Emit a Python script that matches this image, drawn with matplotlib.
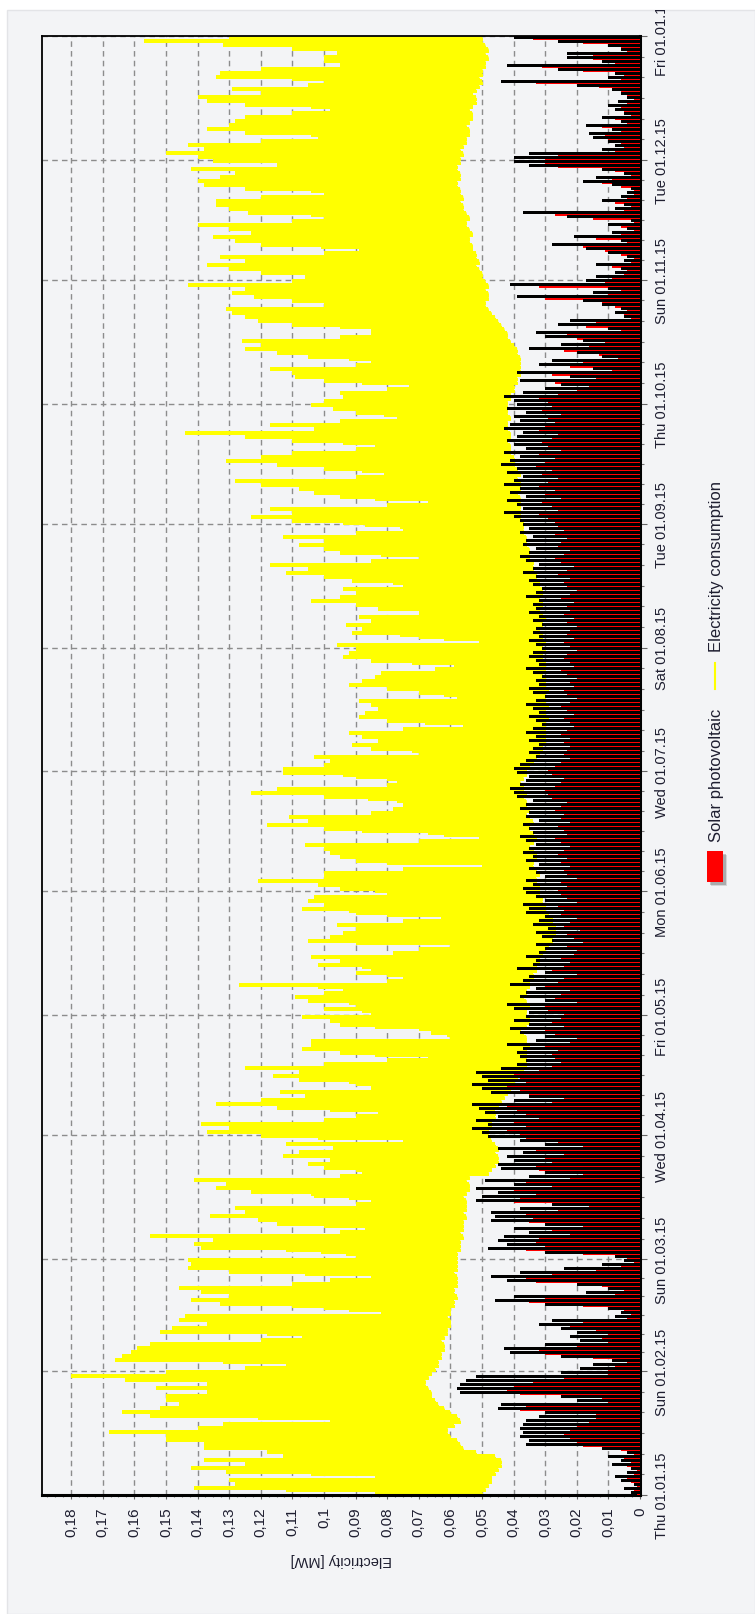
import datetime as dt
import numpy as np
import matplotlib
matplotlib.use("Agg")
import matplotlib.pyplot as plt
from matplotlib.patches import Rectangle
from matplotlib.lines import Line2D
from matplotlib.ticker import MultipleLocator, FixedLocator, FuncFormatter

plt.rcParams["font.family"] = ["Liberation Sans", "DejaVu Sans"]
plt.rcParams["lines.scale_dashes"] = False

W, H = 755, 1615

# daily values in kW (1/1000 MW), 01.01.2015 - 31.12.2015
# electricity consumption: night base load
load_base = [
    50, 49, 48, 47, 47, 46, 45, 44, 44, 46, 52, 56, 57, 58, 60, 61, 61, 59, 57, 58, 60, 62, 64, 65, 66, 66, 67, 68, 68, 67, 66,  # Jan
    65, 64, 64, 63, 63, 62, 62, 63, 62, 61, 61, 60, 60, 61, 60, 60, 59, 59, 58, 59, 59, 58, 58, 58, 59, 58, 58, 58,  # Feb
    58, 58, 57, 57, 57, 56, 57, 56, 56, 56, 55, 56, 55, 55, 55, 56, 55, 54, 54, 55, 54, 48, 47, 46, 45, 45, 46, 45, 46, 47, 48,  # Mar
    48, 48, 47, 47, 46, 46, 47, 45, 44, 43, 42, 41, 40, 40, 39, 38, 37, 36, 36, 36, 36, 36, 35, 36, 36, 37, 38, 36, 35, 35,  # Apr
    36, 36, 35, 36, 37, 36, 36, 35, 35, 34, 34, 33, 33, 32, 32, 31, 30, 29, 28, 28, 27, 27, 27, 28, 28, 29, 30, 30, 31, 31, 32,  # May
    32, 32, 33, 33, 32, 33, 34, 34, 33, 33, 34, 35, 34, 33, 34, 35, 35, 34, 35, 36, 35, 36, 36, 37, 36, 37, 37, 38, 37, 36,  # Jun
    36, 35, 34, 33, 32, 31, 31, 30, 30, 30, 30, 30, 30, 29, 30, 30, 29, 30, 30, 30, 29, 30, 30, 30, 31, 30, 30, 30, 31, 31, 30,  # Jul
    31, 30, 31, 31, 32, 31, 31, 30, 31, 32, 31, 31, 32, 31, 31, 32, 32, 33, 33, 34, 34, 34, 35, 35, 35, 36, 36, 36, 37, 37, 37,  # Aug
    37, 38, 38, 38, 38, 38, 38, 39, 38, 38, 38, 39, 38, 39, 40, 40, 40, 41, 41, 41, 42, 41, 41, 42, 42, 42, 41, 42, 42, 42,  # Sep
    42, 41, 41, 40, 40, 39, 39, 38, 38, 38, 38, 38, 39, 39, 40, 41, 42, 42, 43, 44, 45, 46, 47, 48, 49, 49, 48, 48, 49, 48, 49,  # Oct
    50, 50, 51, 52, 51, 52, 52, 53, 53, 54, 54, 53, 54, 55, 55, 54, 55, 56, 56, 57, 56, 57, 57, 58, 58, 57, 57, 58, 58, 57,  # Nov
    57, 56, 57, 56, 55, 55, 54, 54, 55, 54, 53, 53, 54, 53, 52, 52, 53, 52, 51, 50, 51, 50, 50, 49, 49, 48, 49, 48, 49, 50, 50,  # Dec
]

# electricity consumption: usual daytime level
load_mid = [
    80, 84, 80, 82, 78, 84, 85, 82, 84, 80, 82, 86, 86, 88, 88, 90, 86, 85, 82, 90, 92, 90, 88, 90, 88, 88, 92, 90, 94, 96, 92,
    90, 88, 95, 96, 95, 94, 93, 88, 85, 92, 90, 88, 90, 90, 75, 82, 88, 92, 88, 90, 90, 82, 80, 76, 86, 90, 90, 90,
    80, 84, 90, 90, 88, 92, 80, 76, 86, 88, 90, 88, 88, 78, 75, 82, 88, 90, 90, 92, 80, 76, 82, 84, 80, 85, 84, 78, 82, 65, 85,
    88, 86, 88, 78, 74, 70, 82, 86, 84, 80, 82, 72, 74, 80, 82, 80, 85, 78, 68, 58, 74, 80, 78, 78, 52, 56, 60, 74, 76, 80,
    66, 76, 70, 78, 80, 76, 74, 82, 64, 60, 70, 68, 76, 72, 76, 62, 58, 50, 76, 74, 72, 70, 72, 60, 52, 70, 76, 74, 76, 74, 64,
    72, 74, 78, 74, 74, 60, 44, 70, 72, 72, 74, 76, 58, 44, 56, 74, 78, 74, 76, 68, 64, 62, 64, 74, 80, 78, 64, 62, 70, 76,
    68, 64, 64, 66, 52, 58, 60, 56, 58, 60, 52, 44, 56, 58, 58, 56, 56, 58, 46, 52, 56, 60, 60, 58, 58, 48, 46, 58, 62, 62, 62,
    64, 44, 54, 62, 60, 64, 60, 62, 54, 58, 62, 68, 66, 64, 66, 56, 66, 70, 74, 72, 74, 62, 56, 68, 70, 72, 70, 74, 66, 58, 64,
    78, 82, 78, 80, 64, 56, 74, 76, 78, 82, 84, 70, 66, 76, 80, 86, 82, 78, 72, 68, 78, 84, 88, 76, 80, 74, 64, 72, 74, 76,
    76, 74, 74, 66, 62, 76, 78, 80, 82, 72, 70, 78, 80, 84, 82, 84, 74, 70, 70, 80, 84, 86, 86, 88, 78, 80, 84, 86, 86, 90, 80,
    80, 84, 86, 88, 84, 86, 78, 74, 82, 84, 86, 82, 86, 88, 82, 78, 84, 86, 86, 86, 84, 78, 84, 88, 88, 86, 84, 88, 82, 86,
    88, 90, 86, 88, 84, 80, 84, 86, 84, 84, 82, 80, 78, 82, 86, 86, 82, 84, 80, 78, 86, 86, 82, 76, 78, 78, 76, 80, 86, 90, 84,
]

# electricity consumption: second highest daily level
load_high = [
    82, 112, 100, 108, 81, 104, 118, 100, 110, 95, 102, 112, 108, 122, 115, 128, 110, 104, 90, 121, 126, 118, 116, 124, 118, 110, 122, 112, 128, 140, 118,
    108, 100, 132, 126, 128, 122, 120, 104, 96, 118, 121, 112, 116, 114, 79, 92, 110, 116, 108, 112, 120, 96, 90, 81, 106, 115, 118, 112,
    85, 93, 112, 118, 108, 120, 88, 82, 100, 104, 112, 106, 104, 84, 80, 92, 104, 110, 108, 114, 88, 82, 90, 95, 88, 98, 96, 88, 96, 70, 102,
    110, 106, 112, 88, 82, 76, 98, 108, 100, 92, 96, 78, 82, 92, 98, 94, 102, 88, 74, 62, 84, 92, 90, 90, 56, 61, 65, 84, 86, 92,
    75, 88, 80, 92, 94, 88, 84, 102, 72, 68, 80, 76, 88, 84, 90, 70, 64, 55, 90, 86, 82, 80, 84, 68, 58, 80, 92, 86, 90, 88, 72,
    84, 88, 98, 86, 88, 68, 47, 80, 84, 85, 86, 92, 64, 48, 62, 88, 96, 90, 94, 76, 71, 68, 70, 86, 100, 96, 72, 70, 80, 94,
    90, 82, 80, 84, 61, 72, 76, 70, 72, 76, 64, 50, 68, 74, 72, 70, 70, 74, 52, 62, 68, 76, 74, 70, 70, 56, 52, 72, 78, 76, 76,
    80, 48, 62, 76, 74, 78, 72, 76, 62, 70, 76, 86, 80, 77, 80, 66, 78, 85, 92, 88, 96, 74, 63, 82, 85, 90, 85, 94, 78, 66, 76,
    94, 102, 94, 98, 72, 62, 84, 90, 92, 100, 106, 80, 74, 88, 98, 108, 100, 94, 81, 76, 94, 104, 116, 90, 98, 84, 70, 81, 86, 90,
    88, 84, 85, 73, 68, 88, 94, 95, 100, 81, 78, 92, 98, 104, 101, 105, 85, 78, 78, 95, 102, 106, 108, 110, 89, 95, 103, 108, 106, 116, 95,
    93, 102, 108, 112, 104, 110, 89, 82, 101, 106, 110, 102, 108, 114, 96, 89, 104, 108, 110, 110, 102, 89, 104, 113, 114, 110, 106, 115, 98, 110,
    114, 120, 112, 116, 102, 91, 104, 112, 107, 106, 104, 95, 88, 104, 112, 113, 101, 106, 92, 89, 110, 109, 101, 85, 89, 89, 86, 95, 109, 124, 107,
]

# electricity consumption: daily maximum
load_peak = [
    84, 141, 128, 130, 84, 131, 142, 125, 138, 113, 118, 138, 138, 150, 150, 168, 140, 132, 98, 155, 164, 152, 146, 150, 150, 137, 153, 137, 163, 180, 150,
    125, 112, 166, 164, 161, 159, 155, 120, 107, 152, 148, 137, 146, 144, 82, 100, 133, 142, 130, 139, 146, 110, 98, 85, 130, 143, 142, 143,
    90, 101, 139, 141, 135, 155, 95, 87, 115, 121, 136, 125, 128, 90, 85, 103, 123, 134, 131, 141, 95, 88, 100, 105, 98, 113, 108, 97, 112, 75, 120,
    137, 130, 139, 100, 90, 83, 115, 134, 120, 106, 114, 85, 90, 108, 116, 108, 125, 100, 80, 67, 95, 107, 104, 104, 60, 66, 70, 95, 98, 107,
    85, 100, 90, 105, 109, 100, 94, 127, 80, 75, 90, 85, 102, 95, 104, 78, 70, 60, 105, 98, 94, 90, 96, 75, 63, 90, 107, 100, 105, 103, 80,
    95, 102, 121, 100, 100, 75, 50, 90, 95, 98, 100, 106, 70, 51, 67, 100, 118, 105, 111, 85, 78, 75, 77, 100, 123, 115, 80, 77, 90, 113,
    113, 100, 98, 103, 70, 85, 91, 83, 88, 92, 75, 56, 80, 89, 87, 83, 85, 89, 58, 70, 80, 92, 88, 84, 82, 65, 59, 85, 94, 92, 90,
    96, 51, 70, 91, 88, 93, 85, 89, 70, 83, 90, 104, 95, 90, 94, 75, 91, 100, 112, 105, 117, 85, 70, 95, 100, 108, 100, 113, 90, 75, 87,
    110, 123, 110, 117, 80, 67, 95, 103, 108, 120, 128, 90, 81, 100, 115, 131, 120, 110, 90, 84, 110, 125, 144, 103, 117, 95, 77, 90, 97, 104,
    100, 94, 95, 80, 73, 100, 109, 110, 117, 90, 85, 105, 115, 125, 120, 126, 95, 85, 85, 110, 121, 125, 129, 131, 100, 110, 122, 129, 125, 143, 110,
    106, 120, 130, 137, 125, 133, 100, 89, 120, 128, 135, 123, 130, 140, 110, 100, 124, 130, 134, 134, 120, 100, 125, 138, 140, 133, 128, 142, 115, 135,
    140, 150, 138, 143, 120, 102, 125, 137, 130, 128, 125, 110, 98, 125, 137, 140, 120, 129, 105, 100, 134, 133, 120, 95, 100, 100, 96, 110, 132, 157, 130,
]

# solar photovoltaic: daily maximum
pv_peak = [
    3, 5, 2, 6, 8, 4, 3, 9, 6, 10, 4, 12, 36, 35, 38, 37, 38, 37, 36, 32, 30, 45, 44, 20, 25, 57, 58, 57, 55, 52, 25,
    19, 15, 9, 25, 41, 43, 30, 19, 22, 20, 25, 32, 28, 8, 6, 10, 30, 46, 40, 17, 10, 20, 42, 47, 38, 24, 12, 5,
    8, 30, 48, 42, 45, 43, 35, 40, 30, 47, 46, 47, 38, 28, 52, 50, 45, 52, 40, 49, 35, 30, 44, 45, 40, 42, 37, 45, 30, 38, 48,
    50, 53, 48, 52, 45, 49, 51, 53, 40, 35, 47, 50, 53, 48, 50, 52, 44, 39, 36, 38, 39, 37, 42, 33, 30, 38, 41, 35, 40, 36,
    35, 40, 42, 30, 38, 36, 33, 41, 37, 35, 30, 39, 34, 33, 36, 32, 30, 33, 28, 31, 33, 29, 34, 32, 30, 36, 35, 37, 30, 33, 36,
    37, 34, 36, 30, 33, 35, 32, 36, 34, 37, 35, 33, 36, 38, 34, 35, 37, 32, 36, 35, 38, 36, 34, 39, 40, 41, 38, 36, 35, 39,
    40, 38, 36, 33, 35, 34, 32, 35, 33, 36, 34, 31, 33, 35, 32, 34, 36, 33, 30, 34, 35, 32, 33, 31, 34, 36, 32, 33, 35, 34, 31,
    33, 35, 32, 34, 33, 31, 34, 32, 35, 33, 34, 32, 36, 33, 31, 34, 35, 33, 37, 34, 32, 36, 38, 35, 33, 37, 36, 34, 38, 35, 37,
    38, 40, 43, 37, 39, 42, 36, 41, 38, 43, 40, 37, 42, 39, 44, 41, 38, 43, 36, 40, 42, 39, 37, 43, 41, 38, 40, 36, 42, 39,
    40, 43, 37, 30, 25, 38, 22, 39, 15, 32, 28, 12, 20, 35, 25, 18, 30, 33, 10, 26, 22, 5, 8, 6, 12, 18, 39, 15, 10, 41, 17,
    14, 8, 6, 14, 5, 4, 10, 17, 28, 6, 21, 9, 4, 10, 3, 23, 37, 8, 5, 12, 6, 4, 3, 9, 18, 14, 5, 12, 35, 40,
    40, 35, 12, 8, 10, 15, 16, 9, 17, 6, 12, 5, 8, 10, 7, 4, 6, 9, 20, 44, 10, 8, 26, 42, 12, 23, 23, 6, 10, 26, 40,
]

# solar photovoltaic: usual midday output
pv_typ = [
    1, 2, 1, 3, 4, 2, 1, 4, 3, 5, 2, 6, 18, 20, 22, 24, 22, 20, 16, 14, 14, 38, 36, 10, 12, 38, 42, 40, 34, 24, 10,
    10, 8, 4, 15, 30, 32, 20, 10, 12, 10, 14, 22, 18, 4, 3, 5, 18, 35, 30, 8, 5, 12, 33, 36, 28, 14, 6, 2,
    4, 18, 36, 30, 33, 32, 22, 28, 18, 35, 34, 36, 26, 16, 40, 38, 33, 40, 28, 36, 22, 18, 32, 33, 28, 30, 24, 33, 18, 26, 36,
    38, 42, 36, 40, 32, 36, 39, 42, 28, 24, 35, 38, 42, 36, 38, 40, 32, 28, 25, 27, 28, 26, 30, 22, 20, 27, 30, 24, 28, 25,
    24, 29, 30, 20, 27, 25, 22, 30, 26, 24, 20, 28, 24, 22, 25, 21, 20, 23, 18, 21, 23, 19, 24, 22, 20, 25, 24, 26, 20, 23, 25,
    26, 23, 25, 20, 23, 24, 22, 25, 23, 26, 24, 22, 25, 27, 23, 24, 26, 22, 25, 24, 27, 25, 23, 28, 29, 30, 27, 25, 24, 28,
    29, 27, 25, 22, 24, 23, 22, 24, 22, 25, 23, 21, 22, 24, 21, 23, 25, 22, 20, 23, 24, 21, 22, 20, 23, 25, 21, 22, 24, 23, 20,
    22, 24, 21, 23, 22, 20, 23, 21, 24, 22, 23, 21, 25, 22, 20, 23, 24, 22, 26, 23, 21, 25, 27, 24, 22, 26, 25, 23, 27, 24, 26,
    27, 29, 32, 26, 28, 31, 25, 30, 27, 32, 29, 26, 31, 28, 33, 30, 27, 32, 25, 29, 31, 28, 26, 32, 30, 27, 29, 25, 31, 28,
    29, 32, 26, 20, 16, 27, 14, 28, 9, 22, 18, 7, 13, 24, 16, 11, 20, 23, 6, 17, 14, 3, 5, 4, 8, 12, 30, 10, 6, 32, 11,
    9, 5, 4, 9, 3, 2, 6, 11, 18, 4, 14, 6, 2, 6, 2, 15, 27, 5, 3, 8, 4, 2, 2, 6, 12, 9, 3, 8, 26, 30,
    30, 26, 8, 5, 6, 10, 11, 6, 12, 4, 8, 3, 5, 6, 4, 2, 4, 6, 13, 33, 6, 5, 18, 31, 8, 15, 15, 4, 6, 18, 34,
]

base = np.array(load_base) / 1000
mid = np.array(load_mid) / 1000
high = np.array(load_high) / 1000
peak = np.array(load_peak) / 1000
pv_max = np.array(pv_peak) / 1000
pv_mid = np.array(pv_typ) / 1000
n = len(base)
assert all(len(a) == n for a in (mid, high, peak, pv_max, pv_mid))
days = np.arange(n)


def fx(px):
    return px / W


def fy(py):
    return 1 - py / H


fig = plt.figure(figsize=(W / 100, H / 100), dpi=100, facecolor="white")
panel = Rectangle((fx(7), 0), 1 - fx(7), fy(11), transform=fig.transFigure,
                  facecolor="#f3f4f6", edgecolor="#e3e4e7", lw=1, zorder=-10)
fig.patches.append(panel)

ax = fig.add_axes([fx(42), fy(1496), fx(640) - fx(42), fy(37) - fy(1496)])
ax.set_facecolor("#f3f4f6")

# consumption: solid band base..mid, two streaks per day
yellow = "#ffff00"
ys = np.repeat(np.arange(n + 1), 2)[1:-1]
ax.fill_betweenx(ys, np.repeat(base, 2), np.repeat(mid, 2), color=yellow, lw=0,
                 antialiased=False, zorder=2)
ax.hlines(days + 0.2, base, high, color=yellow, lw=0.75, antialiased=False, zorder=2)
ax.hlines(days + 0.7, base, peak, color=yellow, lw=1.5, antialiased=False, zorder=2)

# solar: red bars with black max lines
ax.barh(days + 0.35, pv_mid, height=0.7, color="#ff0000", lw=0, antialiased=False, zorder=3)
ax.hlines(days + 0.85, 0, pv_max, color="black", lw=0.75, antialiased=False, zorder=4)

ax.set_xlim(0.1892, 0)
ax.set_ylim(0, n)

# value axis (bottom)
ax.xaxis.set_major_locator(MultipleLocator(0.01))
ax.xaxis.set_minor_locator(MultipleLocator(0.0025))
ax.xaxis.set_major_formatter(FuncFormatter(
    lambda v, p: "0" if abs(v) < 1e-9 else f"{round(v, 2):g}".replace(".", ",")))
ax.tick_params(axis="x", which="major", direction="out", length=3, width=0.8,
               color="#666666", pad=5, labelsize=11, labelrotation=90, labelcolor="#1e1e30")
ax.tick_params(axis="x", which="minor", direction="out", length=1.5, width=0.8, color="#777777")

# date axis (right)
start = dt.date(2015, 1, 1)
month_days = [(dt.date(2015 + m // 12, m % 12 + 1, 1) - start).days for m in range(13)]
month_labels = [(start + dt.timedelta(days=d)).strftime("%a %d.%m.%y") for d in month_days]
minor_days = []
for i in range(12):
    s, e = month_days[i], month_days[i + 1]
    minor_days += [s + k * (e - s) / 6 for k in range(1, 6)]

ax.yaxis.tick_right()
ax.set_yticks(month_days, month_labels)
ax.yaxis.set_minor_locator(FixedLocator(minor_days))
ax.tick_params(axis="y", which="major", direction="out", length=5, width=0.8,
               color="#666666", pad=5.5, labelsize=10.5, labelcolor="#1e1e30")
ax.tick_params(axis="y", which="minor", direction="out", length=3, width=0.8, color="#777777")
for t in ax.yaxis.get_major_ticks():
    t.label2.set_rotation(90)
    t.label2.set_va("center")
    t.label2.set_clip_path(panel)

ax.grid(True, which="major", color="#8c8c8c", lw=1.0, linestyle=(0, (4, 3)))
ax.set_axisbelow(True)

for s in ("left", "top"):
    ax.spines[s].set_linewidth(1.3)
for s in ("right", "bottom"):
    ax.spines[s].set_linewidth(2.2)

fig.text(fx(341), fy(1560), "Electricity [MW]", rotation=180, ha="center", va="center",
         fontsize=10.5, color="#1e1e30")

# legend
for off, a in ((4, 0.12), (2.5, 0.2)):
    fig.patches.append(Rectangle((fx(707 + off), fy(883 + off)), fx(16), fy(852) - fy(883),
                                 transform=fig.transFigure, facecolor="black", alpha=a, lw=0))
fig.patches.append(Rectangle((fx(707), fy(883)), fx(16), fy(852) - fy(883),
                             transform=fig.transFigure, facecolor="#ff0000", lw=0))
fig.text(fx(716), fy(842), "Solar photovoltaic", rotation=90, ha="center", va="bottom",
         fontsize=12, color="#1e1e30")
fig.add_artist(Line2D([fx(715), fx(715)], [fy(690), fy(664)], transform=fig.transFigure,
                      color=yellow, lw=1.5))
fig.text(fx(716), fy(652), "Electricity consumption", rotation=90, ha="center", va="bottom",
         fontsize=12, color="#1e1e30")

fig.savefig("out.png", dpi=100, facecolor=fig.get_facecolor())
